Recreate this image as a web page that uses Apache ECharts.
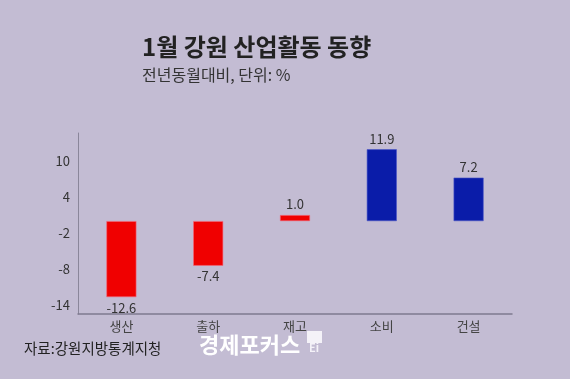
<!DOCTYPE html>
<html><head><meta charset="utf-8">
<script src="https://cdn.jsdelivr.net/npm/echarts@6/dist/echarts.min.js"></script>
<style>html,body{margin:0;padding:0;background:#c3bcd3}#c{width:570px;height:379px}</style>
</head><body><div id="c"></div>
<script>
const categories = ['생산', '출하', '재고', '소비', '건설'];
const values = [-12.6, -7.4, 1.0, 11.9, 7.2];
const barColors = ['#f00000', '#f00000', '#f00000', '#0a1ca9', '#0a1ca9'];
const yTicks = [-14, -8, -2, 4, 10];
const titleText = '1월 강원 산업활동 동향';
const subtitleText = '전년동월대비, 단위: %';
const sourceText = '자료:강원지방통계지청';
const logoText = '경제포커스';

const F = '"Noto Sans CJK KR", "Noto Sans", sans-serif';
const chart = echarts.init(document.getElementById('c'));
chart.setOption({
  backgroundColor: '#c3bcd3',
  animation: false,
  grid: { left: 78, top: 133, right: 58, bottom: 65 },
  xAxis: {
    type: 'category', data: categories, position: 'bottom',
    axisLine: { onZero: false, lineStyle: { color: '#7f7a90', width: 1.5 } },
    axisTick: { show: false },
    axisLabel: { color: '#444', fontSize: 13, fontFamily: F, margin: 6 }
  },
  yAxis: {
    type: 'value', min: -15.4, max: 14.6,
    splitLine: { show: false },
    axisLine: { show: true, lineStyle: { color: '#8a869a', width: 1 } },
    axisTick: { show: false },
    axisLabel: { customValues: yTicks, color: '#333', fontSize: 13, fontFamily: F, margin: 8 }
  },
  series: [{
    type: 'bar', barWidth: 30,
    data: values.map((v, i) => ({
      value: v,
      itemStyle: { color: barColors[i], borderColor: i < 3 ? '#f36a7a' : '#4a55c8', borderWidth: 0.6 },
      label: { position: v < 0 ? 'bottom' : 'top' }
    })),
    label: {
      show: true, color: '#333', fontSize: 13, fontFamily: F, distance: 4,
      formatter: p => p.value.toFixed(1)
    }
  }],
  graphic: [
    { type: 'text', left: 142, top: 35, style: { text: titleText, font: 'bold 24px ' + F, fill: '#222' } },
    { type: 'text', left: 142, top: 67, style: { text: subtitleText, font: '16px ' + F, fill: '#333' } },
    { type: 'text', left: 24, top: 341, style: { text: sourceText, font: '14.5px ' + F, fill: '#222' } },
    { type: 'text', left: 199, top: 334, style: { text: logoText, font: 'bold 22px ' + F, fill: '#ffffff' } },
    { type: 'rect', shape: { x: 307, y: 331, width: 15, height: 12 }, style: { fill: '#f4f2f8' } },
    { type: 'text', left: 309, top: 342, style: { text: 'Ei', font: 'bold 11px ' + F, fill: '#f4f2f8' } }
  ]
});
</script></body></html>
